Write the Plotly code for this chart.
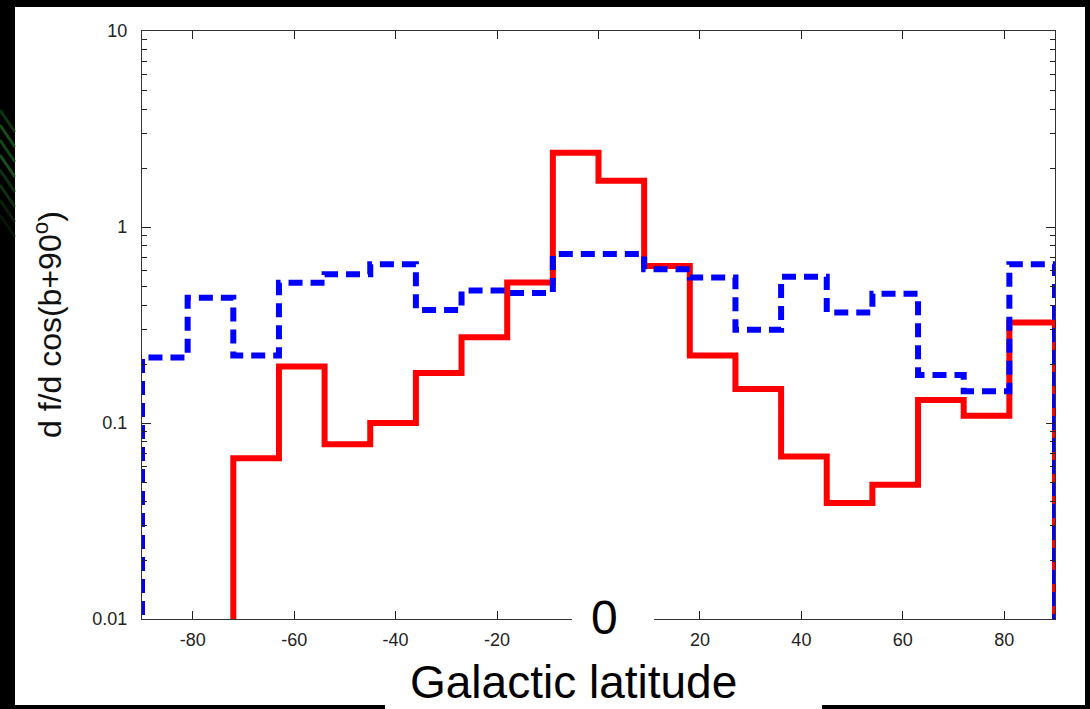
import plotly.graph_objects as go

# Bin edges: 20 bins of 9 degrees from -90 to 90
bin_left = [-90, -81, -72, -63, -54, -45, -36, -27, -18, -9,
            0, 9, 18, 27, 36, 45, 54, 63, 72, 81]
bin_width = 9

red_values = [0, 0, 0.066, 0.194, 0.078, 0.100, 0.180, 0.274, 0.521, 2.39,
              1.72, 0.633, 0.221, 0.149, 0.0675, 0.0391, 0.0484, 0.131, 0.109, 0.326]
blue_values = [0.216, 0.435, 0.221, 0.519, 0.574, 0.646, 0.377, 0.474, 0.460, 0.729,
               0.729, 0.609, 0.552, 0.299, 0.557, 0.366, 0.456, 0.176, 0.145, 0.646]

x_ticks = [-80, -60, -40, -20, 0, 20, 40, 60, 80]
x_tick_labels = ["-80", "-60", "-40", "-20", "", "20", "40", "60", "80"]
y_ticks = [0.01, 0.1, 1, 10]
y_tick_labels = ["0.01", "0.1", "1", "10"]

FLOOR = 1e-4


def steps(values):
    xs, ys = [bin_left[0]], [FLOOR]
    for left, v in zip(bin_left, values):
        val = v if v > 0 else FLOOR
        xs += [left, left + bin_width]
        ys += [val, val]
    xs.append(bin_left[-1] + bin_width)
    ys.append(FLOOR)
    return xs, ys


fig = go.Figure()
rx, ry = steps(red_values)
bx, by = steps(blue_values)
fig.add_trace(go.Scatter(x=rx, y=ry, mode="lines",
                         line=dict(color="#ff0000", width=6), showlegend=False))
fig.add_trace(go.Scatter(x=bx, y=by, mode="lines",
                         line=dict(color="#0000ff", width=6, dash="14px,8px"), showlegend=False))

# plot area in pixels
L, R, T, B = 142, 1055, 31, 619
W, H = 1090, 709


def px(x):
    return (x - L) / (R - L)


def py(y):
    return (B - y) / (B - T)


minor_vals = []
for d in [0.01, 0.1, 1]:
    minor_vals += [d * k for k in range(2, 10)]

font_main = "Liberation Sans, Arial, Helvetica, sans-serif"

shapes = [
    # white slide panel
    dict(type="rect", xref="paper", yref="paper", layer="below",
         x0=px(15), x1=px(1085), y0=py(705), y1=py(7),
         fillcolor="#ffffff", line=dict(width=0)),
    # white box for the x-axis title
    dict(type="rect", xref="paper", yref="paper", layer="above",
         x0=px(385), x1=px(822), y0=py(712), y1=py(655),
         fillcolor="#ffffff", line=dict(width=0)),
    # white box for the big "0"
    dict(type="rect", xref="paper", yref="paper", layer="above",
         x0=px(572), x1=px(654), y0=py(652), y1=py(596),
         fillcolor="#ffffff", line=dict(width=0)),
]
# faint green light streaks on the dark left border
for y0, col, op in [(110, "#1d6b22", 0.5), (125, "#2a8a2e", 0.55), (140, "#1f7424", 0.6),
                    (155, "#2f9033", 0.55), (170, "#1a6020", 0.5), (185, "#226d26", 0.45),
                    (200, "#174f1b", 0.4), (215, "#133f16", 0.35)]:
    shapes.append(dict(type="line", xref="paper", yref="paper", layer="above",
                       x0=px(0), x1=px(15), y0=py(y0), y1=py(y0 + 22),
                       opacity=op, line=dict(color=col, width=3)))

fig.update_layout(
    width=W, height=H,
    margin=dict(l=L, r=W - R, t=T, b=H - B),
    paper_bgcolor="#000000",
    plot_bgcolor="#ffffff",
    font=dict(family=font_main, color="#222222"),
    xaxis=dict(range=[-90, 90], tickvals=x_ticks, ticktext=x_tick_labels,
               ticks="inside", ticklen=8,
               tickwidth=1.2, tickcolor="#222", showline=True, linecolor="#333",
               linewidth=1.3, mirror="ticks", showgrid=False, zeroline=False,
               tickfont=dict(size=18, color="#222"), ticklabelstandoff=4),
    yaxis=dict(type="log", range=[-2, 1], tickvals=y_ticks, ticktext=y_tick_labels,
               ticks="inside", ticklen=9, tickwidth=1.2, tickcolor="#222",
               showline=True, linecolor="#333", linewidth=1.3, mirror="ticks",
               showgrid=False, zeroline=False, tickfont=dict(size=18, color="#222"),
               ticklabelstandoff=10,
               minor=dict(tickvals=minor_vals, ticks="inside", ticklen=5,
                          tickcolor="#222", tickwidth=1, showgrid=False)),
    shapes=shapes,
    annotations=[
        dict(text="d f/d cos(b+90<sup>o</sup>)", xref="paper", yref="paper",
             x=px(48), y=py(325), textangle=-90, showarrow=False,
             xanchor="center", yanchor="middle",
             font=dict(size=32, color="#111", family=font_main)),
        dict(text="0", xref="paper", yref="paper", x=px(604), y=py(617),
             showarrow=False, xanchor="center", yanchor="middle",
             font=dict(size=48, color="#000", family=font_main)),
        dict(text="Galactic latitude", xref="paper", yref="paper",
             x=px(573), y=py(682), showarrow=False, xanchor="center", yanchor="middle",
             font=dict(size=46, color="#000", family=font_main)),
    ],
)

fig.write_html("out.html")
